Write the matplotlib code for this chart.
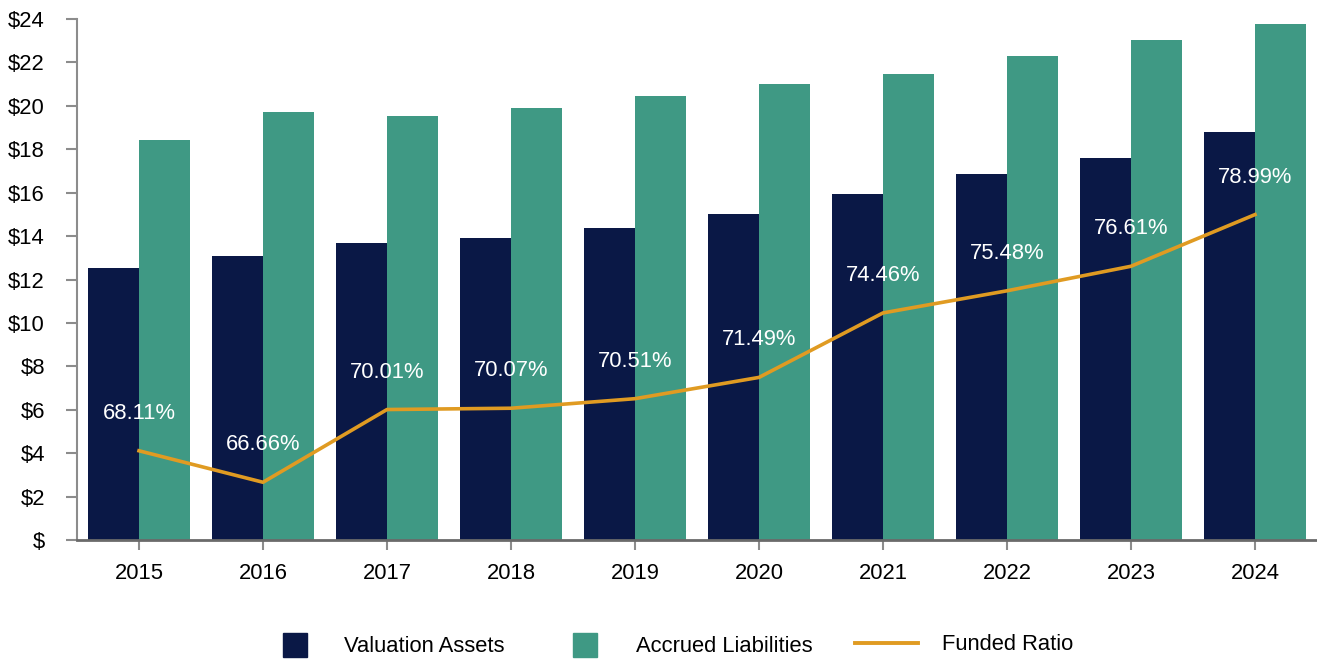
import matplotlib
matplotlib.use("Agg")
import matplotlib.pyplot as plt
import numpy as np
from matplotlib.patches import Patch
from matplotlib.lines import Line2D

plt.rcParams['font.family'] = ['Liberation Sans', 'DejaVu Sans']

years = ['2015', '2016', '2017', '2018', '2019', '2020', '2021', '2022', '2023', '2024']
valuation_assets = [12.53, 13.09, 13.69, 13.92, 14.38, 15.02, 15.94, 16.87, 17.60, 18.80]
accrued_liabilities = [18.43, 19.72, 19.54, 19.91, 20.46, 21.01, 21.47, 22.30, 23.04, 23.78]
funded_ratio = [68.11, 66.66, 70.01, 70.07, 70.51, 71.49, 74.46, 75.48, 76.61, 78.99]
y_ticks = [0, 2, 4, 6, 8, 10, 12, 14, 16, 18, 20, 22, 24]
y_tick_labels = ['$', '$2', '$4', '$6', '$8', '$10', '$12', '$14', '$16', '$18', '$20', '$22', '$24']

NAVY = '#0A1846'
TEAL = '#3F9984'
GOLD = '#E09B22'
FS = 15.8
EM = FS * 100 / 72

W, H = 1317, 661
fig = plt.figure(figsize=(W / 100, H / 100), dpi=100)
ax = fig.add_axes([77 / W, 1 - 540 / H, (W - 77) / W, (540 - 19) / H])

x = np.arange(len(years))
bw = 0.41
ax.bar(x - bw / 2, valuation_assets, width=bw, color=NAVY, zorder=2)
ax.bar(x + bw / 2, accrued_liabilities, width=bw, color=TEAL, zorder=2)

ax.set_xlim(-0.5, len(years) - 0.5)
ax.set_ylim(0, 24)
ax.set_yticks(y_ticks)
ax.set_yticklabels(y_tick_labels)
ax.set_xticks(x)
ax.set_xticklabels(years)
ax.tick_params(axis='y', length=8, width=1.5, color='#8c8c8c', pad=15, labelsize=FS)
ax.tick_params(axis='x', length=7.5, width=1.5, color='#8c8c8c', pad=9, labelsize=FS)
for s in ['top', 'right']:
    ax.spines[s].set_visible(False)
ax.spines['left'].set_color('#8c8c8c')
ax.spines['left'].set_linewidth(1.5)
ax.spines['bottom'].set_color('#6a6a6a')
ax.spines['bottom'].set_linewidth(2)

ax2 = ax.twinx()
ax2.set_ylim(64, 88)
ax2.axis('off')
ax2.plot(x, funded_ratio, color=GOLD, linewidth=2.6, zorder=3)
for xi, v in zip(x, funded_ratio):
    ax2.annotate(f'{v:.2f}%', (xi, v), xytext=(0, 27), textcoords='offset points',
                 ha='center', va='center', color='white', fontsize=FS, zorder=4)

leg_y = 1 - 645 / H
common = dict(loc='center left', frameon=False, fontsize=FS, borderpad=0, borderaxespad=0)
fig.legend(handles=[Patch(color=NAVY, label='Valuation Assets')],
           bbox_to_anchor=(283 / W, leg_y), handlelength=24 / EM, handleheight=29 / EM,
           handletextpad=37 / EM, **common)
fig.legend(handles=[Patch(color=TEAL, label='Accrued Liabilities')],
           bbox_to_anchor=(573 / W, leg_y), handlelength=24 / EM, handleheight=29 / EM,
           handletextpad=39 / EM, **common)
fig.legend(handles=[Line2D([], [], color=GOLD, linewidth=2.8, label='Funded Ratio')],
           bbox_to_anchor=(855 / W, leg_y), handlelength=63 / EM, handletextpad=24 / EM,
           **common)

fig.savefig('out.png', dpi=100)
